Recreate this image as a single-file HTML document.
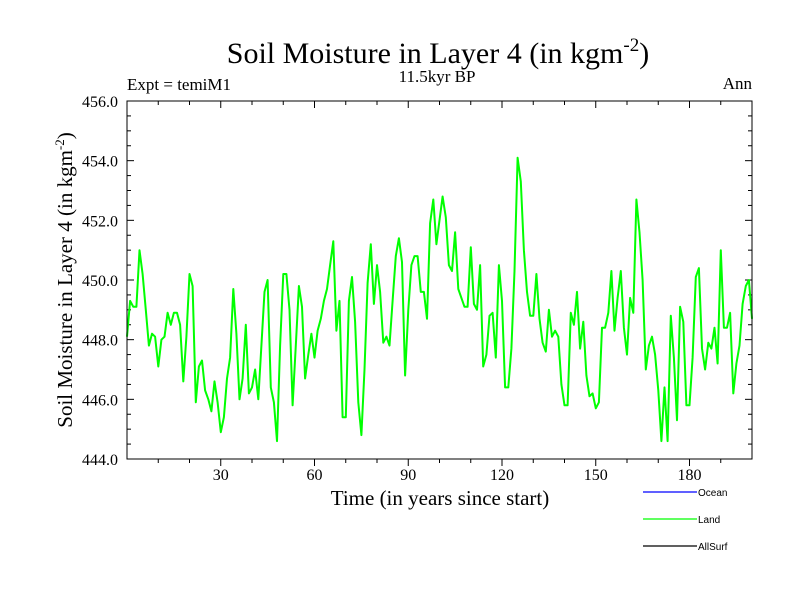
<!DOCTYPE html>
<html><head><meta charset="utf-8"><style>
body{margin:0;background:#fff;}
svg text{font-family:"Liberation Serif",serif;}
</style></head><body>
<svg id="chart" width="800" height="600" xmlns="http://www.w3.org/2000/svg">
<text x="438" y="63" font-size="30" text-anchor="middle">Soil Moisture in Layer 4 (in kgm<tspan font-size="19" dy="-12">-2</tspan><tspan dy="12">)</tspan></text>
<text x="127" y="90" font-size="17">Expt = temiM1</text>
<text x="437" y="82" font-size="17" text-anchor="middle">11.5kyr BP</text>
<text x="752" y="89" font-size="17" text-anchor="end">Ann</text>
<g id="axes"></g>
<polyline id="land-line" fill="none" stroke="#00ff00" stroke-width="2" stroke-linejoin="round"/>
<rect x="127" y="101" width="625" height="358" fill="none" stroke="#000" stroke-width="1"/>
<text x="440" y="505" font-size="21" text-anchor="middle">Time (in years since start)</text>
<text transform="translate(72,280) rotate(-90)" font-size="21" text-anchor="middle">Soil Moisture in Layer 4 (in kgm<tspan font-size="13" dy="-8">-2</tspan><tspan dy="8">)</tspan></text>
<g font-size="10">
<line x1="643" y1="492" x2="697" y2="492" stroke="#0000ff" stroke-width="1.3"/>
<text x="698" y="496" style="font-family:'Liberation Sans',sans-serif" font-size="10">Ocean</text>
<line x1="643" y1="519" x2="697" y2="519" stroke="#00ff00" stroke-width="1.3"/>
<text x="698" y="523" style="font-family:'Liberation Sans',sans-serif" font-size="10">Land</text>
<line x1="643" y1="546" x2="697" y2="546" stroke="#000" stroke-width="1.3"/>
<text x="698" y="550" style="font-family:'Liberation Sans',sans-serif" font-size="10">AllSurf</text>
</g>
</svg>
<script>
const years0 = 0;
const landValues = [
448.1,449.3,449.1,449.1,451.0,450.2,449.0,447.8,448.2,448.1,447.1,448.0,448.1,448.9,448.5,448.9,448.9,448.5,446.6,448.1,450.2,449.8,445.9,447.1,447.3,446.3,446.0,445.6,446.6,445.9,444.9,445.4,446.7,447.4,449.7,448.2,446.0,446.7,448.5,446.2,446.4,447.0,446.0,447.8,449.6,450.0,446.4,445.9,444.6,447.8,450.2,
450.2,449.0,445.8,447.8,449.8,449.1,446.7,447.5,448.2,447.4,448.3,448.7,449.3,449.7,450.5,451.3,448.3,449.3,445.4,445.4,449.3,450.1,448.6,445.9,444.8,447.0,449.9,451.2,449.2,450.5,449.6,447.9,448.1,447.8,449.3,450.8,451.4,450.6,446.8,449.0,450.5,450.8,450.8,449.6,449.6,448.7,451.9,452.7,451.2,452.0,
452.8,452.1,450.5,450.3,451.6,449.7,449.4,449.1,449.1,451.1,449.2,449.0,450.5,447.1,447.5,448.8,448.9,447.4,450.5,449.3,446.4,446.4,447.7,450.3,454.1,453.3,451.0,449.6,448.8,448.8,450.2,448.7,447.9,447.6,449.0,448.1,448.3,448.1,446.5,445.8,445.8,448.9,448.5,449.6,447.7,448.6,446.8,446.1,446.2,445.7,
445.9,448.4,448.4,448.9,450.3,448.3,449.4,450.3,448.4,447.5,449.4,448.9,452.7,451.6,450.0,447.0,447.8,448.1,447.5,446.3,444.6,446.4,444.6,448.8,447.4,445.3,449.1,448.6,445.8,445.8,447.4,450.1,450.4,447.7,447.0,447.9,447.7,448.4,447.2,451.0,448.4,448.4,448.9,446.2,447.2,447.8,449.2,449.8,450.0,448.7
];
const yTickLabels = ["444.0","446.0","448.0","450.0","452.0","454.0","456.0"];
const xTickLabels = ["30","60","90","120","150","180"];
const X0=127,X1=752,Y0=459,Y1=101;
function xs(t){return X0+(t-0)/200*(X1-X0);}
function ys(v){return Y0-(v-444)/12*(Y0-Y1);}
const ns="http://www.w3.org/2000/svg";
const axes=document.getElementById('axes');
function ln(x1,y1,x2,y2,name){const l=document.createElementNS(ns,'line');l.setAttribute('x1',x1);l.setAttribute('y1',y1);l.setAttribute('x2',x2);l.setAttribute('y2',y2);l.setAttribute('stroke','#000');l.setAttribute('stroke-width','1');


axes.appendChild(l);}
for(let v=444;v<=456.001;v+=0.5){const y=ys(v);const major=Math.abs(v-Math.round(v/2)*2)<0.01;const len=major?7:4;ln(X0,y,X0+len,y,'y-tick');ln(X1-len,y,X1,y,'y-tick');}
yTickLabels.forEach(s=>{const t=document.createElementNS(ns,'text');t.setAttribute('x',118);t.setAttribute('y',ys(parseFloat(s))+6);t.setAttribute('font-size','16');t.setAttribute('text-anchor','end');t.textContent=s;


axes.appendChild(t);});
for(let k=10;k<200;k+=10){const x=xs(k);const major=k%30===0;const len=major?7:4;ln(x,Y0,x,Y0+len,'x-tick');ln(x,Y1,x,Y1+len,'x-tick');}
xTickLabels.forEach(s=>{const t=document.createElementNS(ns,'text');t.setAttribute('x',xs(parseFloat(s)));t.setAttribute('y',480);t.setAttribute('font-size','16');t.setAttribute('text-anchor','middle');t.textContent=s;


axes.appendChild(t);});
document.getElementById('land-line').setAttribute('points',landValues.map((v,i)=>xs(years0+i).toFixed(1)+','+ys(v).toFixed(1)).join(' '));
</script>
</body></html>
